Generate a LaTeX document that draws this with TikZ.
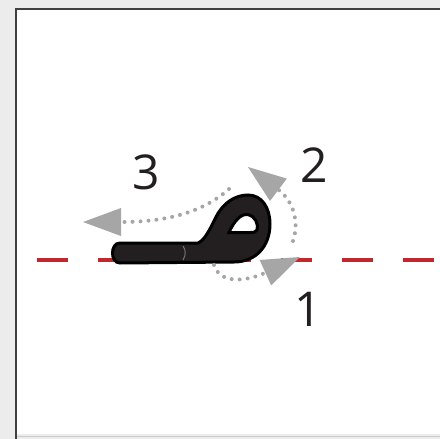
\documentclass[tikz,border=0pt]{standalone}
\usepackage{fontspec}
\setmainfont{Open Sans}
\usetikzlibrary{arrows.meta}
\definecolor{inkblack}{RGB}{35,31,32}
\definecolor{guidered}{RGB}{193,39,45}
\definecolor{dotgray}{RGB}{166,166,166}
\definecolor{panelgray}{RGB}{236,236,236}

\begin{document}
\begin{tikzpicture}[x=1pt, y=-1pt,
  num/.style={font=\fontsize{48}{48}\selectfont, text=inkblack, inner sep=0pt},
  baseline/.style={guidered, line width=4pt, dash pattern=on 31pt off 30pt},
  dotarrow/.style={dotgray, line width=4pt, line cap=round,
                   dash pattern=on 0pt off 8pt,
                   -{Triangle[length=38pt, width=28pt, line width=0pt]}}
]
  \useasboundingbox (0,0) rectangle (440,439);

  % panel
  \fill[panelgray] (0,0) rectangle (440,439);
  \fill[white] (17,9) rectangle (440,434);
  \draw[line width=2pt, black!75] (16,439) -- (16,9) -- (440,9);
  \draw[line width=1pt, black!20] (17,436.5) -- (440,436.5);

  % base line
  \coordinate (gl) at (37,260);
  \coordinate (gr) at (440,260);
  \draw[baseline] (gl) -- (gr);

  % letter
  \filldraw[fill=inkblack, draw=black, line width=3pt, even odd rule]
    (120,243) -- (198,243)
      .. controls (205,240) and (210,229) .. (216,217)
      .. controls (223,203) and (235,195) .. (248,195)
      .. controls (262,195) and (270,208) .. (270,224)
      .. controls (270,246) and (256,262) .. (234,262)
      -- (120,263)
      .. controls (110,263) and (110,243) .. (120,243) -- cycle
    (229,232.5) .. controls (234,221) and (241,213.5) .. (248,214.5)
      .. controls (255,215.5) and (259,225) .. (257,230)
      .. controls (256,232.5) and (253,232.5) .. (250,232.5) -- cycle;
  \draw[line width=1pt, black!55] (183,246) .. controls (186,250) and (186,255) .. (183,260);

  % stroke order
  \coordinate (s1) at (214,265);
  \coordinate (t1) at (300,257);
  \draw[dotarrow] (s1) .. controls (220,284) and (245,282) .. (t1);
  \coordinate (s2) at (293,241);
  \coordinate (t2) at (248,167);
  \draw[dotarrow] (s2) .. controls (300,220) and (292,200) .. (t2);
  \coordinate (s3) at (229,189);
  \coordinate (t3) at (83,222);
  \draw[dotarrow] (s3) .. controls (200,215) and (160,222) .. (t3);

  \node[num] (n1) at (308,309) {1};
  \node[num] (n2) at (314,165) {2};
  \node[num] (n3) at (146,172) {3};
\end{tikzpicture}
\end{document}
